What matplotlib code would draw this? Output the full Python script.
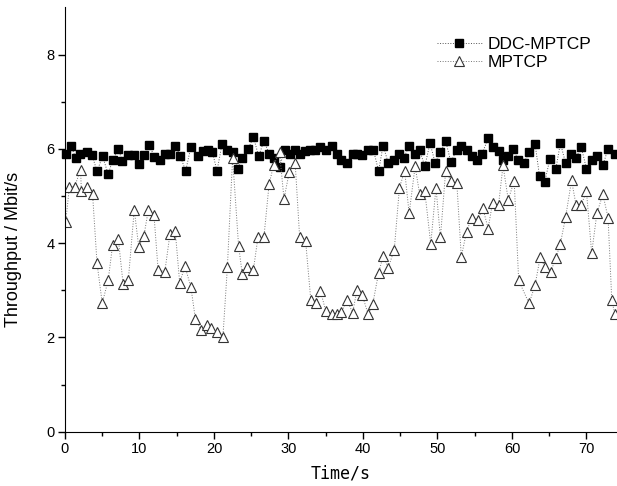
import matplotlib.pyplot as plt
import numpy as np
from matplotlib.ticker import MultipleLocator

# DDC-MPTCP throughput samples (time s, Mbit/s)
ddc_t = [0.1, 0.8, 1.43, 2.0, 2.9, 3.6, 4.3, 5.06, 5.8, 6.4, 7.16, 7.7, 8.5, 9.2, 9.9,
         10.6, 11.3, 12.0, 12.7, 13.4, 14.1, 14.8, 15.5, 16.2, 16.9, 17.8,
         18.5, 19.2, 19.8, 20.4, 21.1, 21.8, 22.5, 23.2, 23.8, 24.6, 25.3, 26.0, 26.7,
         27.4, 28.1, 28.8, 29.5, 30.2, 30.9, 31.5, 32.2, 32.9, 33.6, 34.3, 35.0,
         35.8, 36.5, 37.1, 37.8, 38.6, 39.2, 39.9, 40.7, 41.4, 42.1, 42.7, 43.4, 44.2,
         44.9, 45.5, 46.2, 47.0, 47.6, 48.3, 49.0, 49.7, 50.4, 51.1, 51.8, 52.6,
         53.2, 53.9, 54.6, 55.3, 56.0, 56.8, 57.5, 58.2, 58.8, 59.5, 60.2, 60.8, 61.6,
         62.3, 63.1, 63.7, 64.4, 65.1, 65.9, 66.5, 67.2, 67.9, 68.6, 69.3, 70.0, 70.7,
         71.4, 72.2, 72.9, 73.8]
ddc_v = [5.9, 6.07, 5.81, 5.9, 5.93, 5.88, 5.53, 5.84, 5.46, 5.76, 6.0, 5.74, 5.88, 5.88, 5.67,
         5.88, 6.09, 5.83, 5.77, 5.9, 5.9, 6.07, 5.84, 5.53, 6.04, 5.84,
         5.95, 5.98, 5.93, 5.53, 6.11, 5.98, 5.93, 5.58, 5.81, 6.0, 6.25, 5.84, 6.17,
         5.9, 5.81, 5.62, 5.98, 5.9, 5.98, 5.9, 5.95, 5.97, 5.98, 6.04, 5.98,
         6.07, 5.9, 5.77, 5.7, 5.9, 5.9, 5.88, 5.98, 5.98, 5.53, 6.07, 5.7, 5.77,
         5.9, 5.81, 6.07, 5.9, 5.98, 5.63, 6.12, 5.7, 5.93, 6.17, 5.72, 5.98,
         6.07, 5.97, 5.84, 5.76, 5.9, 6.22, 6.03, 5.95, 5.77, 5.84, 6.0, 5.76, 5.7,
         5.93, 6.11, 5.42, 5.3, 5.79, 5.58, 6.12, 5.7, 5.9, 5.81, 6.04, 5.58, 5.77,
         5.84, 5.65, 6.0, 5.9]

# MPTCP throughput samples
mp_t = [0.1, 0.6, 1.3, 2.1, 2.2, 2.9, 3.7, 4.3, 5.0, 5.8, 6.4, 7.16, 7.8, 8.5, 9.3, 9.9,
        10.6, 11.2, 11.95, 12.5, 13.4, 14.1, 14.8, 15.4, 16.1, 16.9, 17.5,
        18.3, 19.0, 19.6, 20.4, 21.2, 21.8, 22.5, 23.3, 23.8, 24.5, 25.3, 25.9, 26.7,
        27.4, 28.0, 28.8, 29.4, 30.1, 30.9, 31.5, 32.3, 33.0, 33.7, 34.3, 35.0,
        35.8, 36.5, 37.1, 37.9, 38.6, 39.2, 39.9, 40.7, 41.3, 42.1, 42.7, 43.4, 44.2,
        44.9, 45.6, 46.2, 47.0, 47.6, 48.3, 49.1, 49.8, 50.4, 51.1, 51.8, 52.6,
        53.2, 53.9, 54.6, 55.4, 56.1, 56.8, 57.4, 58.2, 58.8, 59.5, 60.3, 60.9,
        62.3, 63.1, 63.8, 64.4, 65.2, 65.9, 66.5, 67.2, 68.0, 68.6, 69.3, 70.0,
        70.7, 71.4, 72.2, 72.9, 73.4, 73.8]
mp_v = [4.45, 5.2, 5.2, 5.56, 5.1, 5.2, 5.05, 3.58, 2.73, 3.21, 3.97, 4.09, 3.14, 3.21, 4.71, 3.92,
        4.16, 4.71, 4.59, 3.44, 3.39, 4.2, 4.26, 3.16, 3.51, 3.07, 2.4,
        2.15, 2.26, 2.19, 2.12, 2.01, 3.49, 5.81, 3.95, 3.34, 3.49, 3.44, 4.12, 4.12,
        5.25, 5.65, 5.93, 4.94, 5.5, 5.7, 4.13, 4.05, 2.79, 2.73, 2.99, 2.56,
        2.5, 2.49, 2.54, 2.79, 2.52, 3.0, 2.9, 2.49, 2.7, 3.37, 3.72, 3.48, 3.86,
        5.18, 5.53, 4.63, 5.63, 5.05, 5.1, 3.98, 5.18, 4.12, 5.54, 5.32, 5.27,
        3.71, 4.24, 4.54, 4.5, 4.74, 4.31, 4.86, 4.81, 5.65, 4.92, 5.32, 3.21,
        2.72, 3.11, 3.71, 3.5, 3.39, 3.69, 3.99, 4.55, 5.33, 4.81, 4.81, 5.1,
        3.79, 4.63, 5.04, 4.54, 2.79, 2.5]

plt.rcParams['font.family'] = ['Liberation Sans', 'DejaVu Sans']

fig = plt.figure(figsize=(6.17, 4.86), dpi=100)
ax = fig.add_axes([0.1053, 0.1117, 0.8947, 0.873])

ax.plot(ddc_t, ddc_v, linestyle=':', color='#555555', linewidth=0.7,
        marker='s', markersize=5.8, markerfacecolor='black', markeredgecolor='black',
        label='DDC-MPTCP', clip_on=False)
ax.plot(mp_t, mp_v, linestyle=':', color='#777777', linewidth=0.7,
        marker='^', markersize=7.5, markerfacecolor='white', markeredgecolor='#333333',
        markeredgewidth=0.8, label='MPTCP')

ax.set_xlim(0, 74.1)
ax.set_ylim(0, 9)
ax.xaxis.set_major_locator(MultipleLocator(10))
ax.xaxis.set_minor_locator(MultipleLocator(5))
ax.set_yticks([0, 2, 4, 6, 8])
ax.set_yticks([1, 3, 5, 7], minor=True)
ax.spines['top'].set_visible(False)
ax.spines['right'].set_visible(False)
ax.tick_params(which='major', direction='out', length=5, width=1, labelsize=10.5, pad=2.5)
ax.tick_params(which='minor', direction='out', length=3, width=1)

ax.set_ylabel('Throughput / Mbit/s', fontsize=13)
ax.yaxis.set_label_coords(-0.078, 0.43)
ax.set_xlabel('Time/s', fontsize=12, family=['DejaVu Sans Mono'], labelpad=6)

leg = ax.legend(loc='upper left', bbox_to_anchor=(0.658, 0.952), frameon=False,
                borderpad=0, fontsize=12.5, handlelength=2.6, handletextpad=0.35,
                labelspacing=0.2)

plt.savefig('out.png', dpi=100)
